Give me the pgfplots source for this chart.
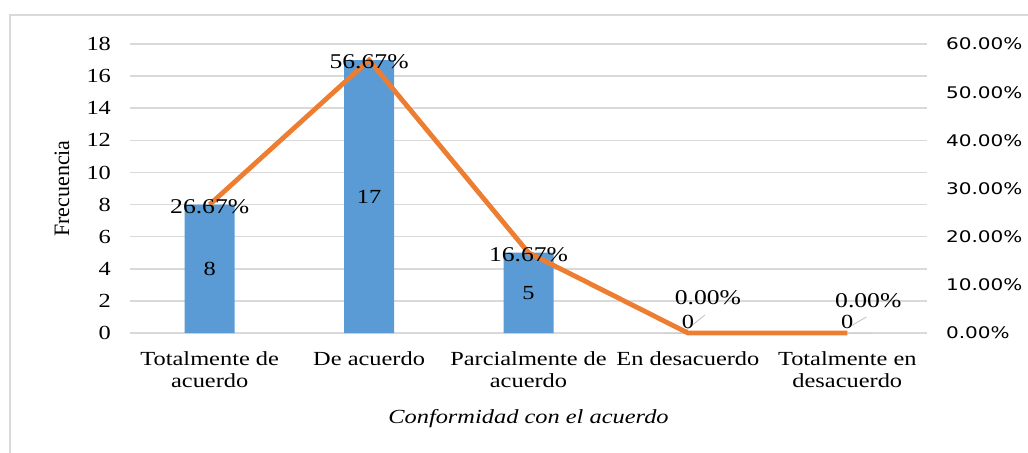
\documentclass[border=0pt]{standalone}
\usepackage{pgfplots}
\pgfplotsset{compat=1.18}
\usepackage{fontspec}
\setmainfont{Liberation Serif}[FakeStretch=1.22]
\newfontfamily\plainserif{Liberation Serif}
\newfontfamily\rsans{DejaVu Sans}[FakeStretch=1.25]
\definecolor{barblue}{HTML}{5B9BD5}
\definecolor{lineorange}{HTML}{ED7D31}
\definecolor{gridgray}{HTML}{D9D9D9}
\begin{document}
\begin{tikzpicture}
\useasboundingbox (-65pt,-59.5pt) rectangle (449pt,166.5pt);
\draw[gridgray, line width=1.2pt] (-60pt,-80pt) -- (-60pt,159pt) -- (470pt,159pt);
\begin{axis}[
  at={(0,0)}, anchor=south west,
  scale only axis, width=398.5pt, height=144.5pt,
  xmin=-0.5, xmax=4.5, ymin=0, ymax=18,
  xtick={0,1,2,3,4},
  xticklabels={Totalmente de\\acuerdo, De acuerdo, Parcialmente de\\acuerdo, En desacuerdo, Totalmente en\\desacuerdo},
  ytick={0,2,...,18},
  ymajorgrids, grid style={gridgray, line width=0.8pt},
  axis line style={draw=none}, major tick length=0,
  /pgf/number format/assume math mode=true,
  tick label style={font=\fontsize{10}{11}\selectfont},
  yticklabel style={xshift=-6pt},
  xticklabel style={yshift=-6pt, align=center},
  xlabel={\textit{Conformidad con el acuerdo}},
  xlabel style={at={(rel axis cs:0.5,0)}, anchor=base, yshift=-45pt, font=\fontsize{10}{11}\selectfont},
  ylabel={Frecuencia},
  ylabel style={at={(rel axis cs:0,0.5)}, anchor=center, xshift=0pt, yshift=34pt, font=\plainserif\fontsize{11}{12}\selectfont},
  clip=false,
]
\addplot[ybar, bar width=25pt, fill=barblue, draw=none] coordinates {(0,8) (1,17) (2,5) (3,0) (4,0)};
\addplot[draw=none, nodes near coords, point meta=explicit,
  nodes near coords style={anchor=center, font=\fontsize{10}{11}\selectfont}]
  coordinates {(0,4) [8] (1,8.5) [17] (2,2.5) [5] (3,0.7) [0] (4,0.7) [0]};
\addplot[gray!50, line width=0.4pt] coordinates {(2.99,0.19) (3.107,1.125)};
\addplot[gray!50, line width=0.4pt] coordinates {(4.0,0.31) (4.12,1.0)};
\end{axis}
\begin{axis}[
  at={(0,0)}, anchor=south west,
  scale only axis, width=398.5pt, height=144.5pt,
  xmin=-0.5, xmax=4.5, ymin=0, ymax=60,
  axis x line=none, axis y line*=right,
  y axis line style={draw=none}, major tick length=0,
  ytick={0,10,...,60},
  /pgf/number format/assume math mode=true,
  yticklabel={\pgfmathprintnumber[fixed,fixed zerofill,precision=2]{\tick}\%},
  yticklabel style={xshift=6pt, anchor=west, font=\rsans\fontsize{8}{9}\selectfont},
  clip=false,
]
\addplot[lineorange, line width=2.4pt] coordinates {(0,26.67) (1,56.67) (2,16.67) (3,0) (4,0)};
\addplot[draw=none, point meta=y,
  nodes near coords={\pgfmathprintnumber[fixed,fixed zerofill,precision=2]{\pgfplotspointmeta}\%},
  nodes near coords style={anchor=center, yshift=-1pt, font=\fontsize{10.5}{11}\selectfont}]
  coordinates {(0,26.67) (1,56.67) (2,16.67)};
\addplot[draw=none, point meta=y,
  nodes near coords={\pgfmathprintnumber[fixed,fixed zerofill,precision=2]{\pgfplotspointmeta}\%},
  nodes near coords style={anchor=center, xshift=10pt, yshift=17.5pt, font=\fontsize{10.5}{11}\selectfont}]
  coordinates {(3,0)};
\addplot[draw=none, point meta=y,
  nodes near coords={\pgfmathprintnumber[fixed,fixed zerofill,precision=2]{\pgfplotspointmeta}\%},
  nodes near coords style={anchor=center, xshift=10.5pt, yshift=16pt, font=\fontsize{10.5}{11}\selectfont}]
  coordinates {(4,0)};
\end{axis}
\end{tikzpicture}
\end{document}
